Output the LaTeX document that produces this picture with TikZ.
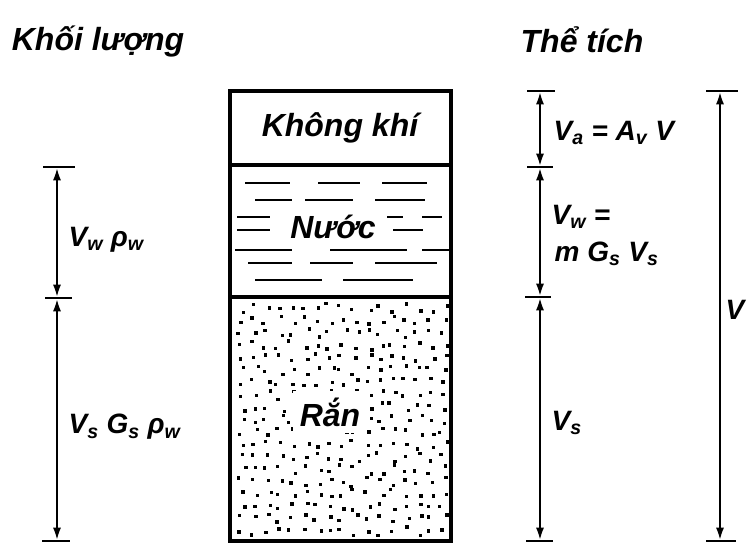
\documentclass[tikz,border=0pt]{standalone}
\usepackage{fontspec}
\setmainfont{Liberation Sans}
\usetikzlibrary{arrows.meta}
\tikzset{
  lbl/.style={font=\bfseries\itshape\fontsize{21}{26}\selectfont, inner sep=1pt},
  head/.style={font=\bfseries\itshape\fontsize{24}{30}\selectfont, inner sep=1pt},
  dim/.style={line width=2pt, {Latex[length=10pt,width=6pt]}-{Latex[length=10pt,width=6pt]}},
  tick/.style={line width=2.2pt},
  wave/.style={line width=2.2pt},
  outline/.style={line width=2.4pt}
}
\begin{document}
\begin{tikzpicture}[x=0.75pt,y=-0.75pt]
\useasboundingbox (0,0) rectangle (747,546);
% headings
\node[head] (hm) at (98,42) {Khối lượng};
\node[head] (hv) at (582,40) {Thể tích};
% column box
\draw[outline] (230,91) rectangle (451,541);
\draw[outline] (230,165) -- (451,165);
\draw[outline] (230,297) -- (451,297);
% water dashes
\foreach \y/\a/\b in {183/245/290, 183/318/360, 183/382/427,
                     200/255/292, 200/305/353, 200/375/425,
                     217/237/270, 217/387/403, 217/422/442,
                     230/237/270, 230/393/423,
                     250/235/292, 250/330/407, 250/422/450,
                     263/248/292, 263/310/353, 263/375/437,
                     280/255/322, 280/343/413}
  \draw[wave] (\a,\y) -- (\b,\y);
% solid stipple (jittered grid)
\pgfmathsetseed{11}
\foreach \c in {0,...,16}{
  \foreach \r in {0,...,18}{
    \pgfmathsetmacro\xx{236+\c*12.6+rnd*9}
    \pgfmathsetmacro\yy{302+\r*12.4+rnd*9}
    \fill (\xx,\yy) rectangle ++(3.4,3.4);
  }
}
\node[head, fill=white, inner sep=0pt] (air) at (340,128) {Không khí};
\node[head, fill=white, inner sep=3pt] (water) at (333,227) {Nước};
\node[head, fill=white, inner sep=5pt] (solid) at (330,412) {Rắn};
% left dimension (mass)
\coordinate (m1) at (57,167);
\coordinate (m2) at (57,298);
\coordinate (m3) at (57,541);
\draw[tick] (43,167) -- (75,167);
\draw[tick] (45,298) -- (72,298);
\draw[tick] (42,541) -- (70,541);
\draw[dim] (m1) -- (m2);
\draw[dim] (m2) -- (m3);
\node[lbl, anchor=west] (lw) at (67,240) {V\textsubscript{w} ρ\textsubscript{w}};
\node[lbl, anchor=west] (ls) at (67,427) {V\textsubscript{s} G\textsubscript{s} ρ\textsubscript{w}};
% right dimension (volume parts)
\coordinate (v1) at (540,91);
\coordinate (v2) at (540,167);
\coordinate (v3) at (540,297);
\coordinate (v4) at (540,541);
\draw[tick] (527,91) -- (555,91);
\draw[tick] (527,167) -- (553,167);
\draw[tick] (525,297) -- (551,297);
\draw[tick] (526,541) -- (553,541);
\draw[dim] (v1) -- (v2);
\draw[dim] (v2) -- (v3);
\draw[dim] (v3) -- (v4);
\node[lbl, anchor=west] (va) at (552,133) {V\textsubscript{a} = A\textsubscript{v} V};
\node[lbl, anchor=west] (vw1) at (550,217) {V\textsubscript{w} =};
\node[lbl, anchor=west] (vw2) at (553,254) {m G\textsubscript{s} V\textsubscript{s}};
\node[lbl, anchor=west] (vs) at (550,423) {V\textsubscript{s}};
% total volume
\coordinate (t1) at (720,91);
\coordinate (t2) at (720,541);
\draw[tick] (706,91) -- (738,91);
\draw[tick] (706,541) -- (736,541);
\draw[dim] (t1) -- (t2);
\node[lbl, inner sep=0pt] (vt) at (735,310) {V};
\end{tikzpicture}
\end{document}
